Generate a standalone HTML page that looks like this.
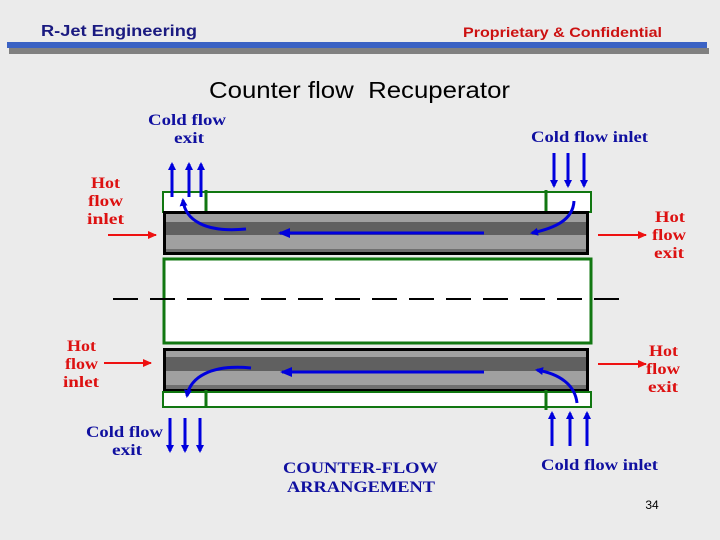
<!DOCTYPE html>
<html><head><meta charset="utf-8"><style>
body{margin:0;width:720px;height:540px;background:#ebebeb;overflow:hidden}
svg{display:block}
.l{font-family:"Liberation Serif",serif;font-weight:bold;font-size:16px}
.b{fill:#1010a0}.r{fill:#dd1111}
</style></head><body>
<svg width="720" height="540" xmlns="http://www.w3.org/2000/svg">
<defs>
<marker id="ab" markerWidth="8" markerHeight="8" refX="6" refY="4" orient="auto" markerUnits="userSpaceOnUse"><path d="M0,0 L8,4 L0,8 z" fill="#0000dd"/></marker>
<marker id="ar" markerWidth="9" markerHeight="8" refX="8" refY="4" orient="auto" markerUnits="userSpaceOnUse"><path d="M0,0 L9,4 L0,8 z" fill="#ee1111"/></marker>
<marker id="abl" markerWidth="12" markerHeight="10" refX="10" refY="5" orient="auto" markerUnits="userSpaceOnUse"><path d="M0,0 L12,5 L0,10 z" fill="#0000dd"/></marker>
</defs>
<text x="41" y="36" font-family="Liberation Sans,sans-serif" font-weight="bold" font-size="16" fill="#1a1a80" textLength="156" lengthAdjust="spacingAndGlyphs">R-Jet Engineering</text>
<text x="463" y="37" font-family="Liberation Sans,sans-serif" font-weight="bold" font-size="14" fill="#cc1111" textLength="199" lengthAdjust="spacingAndGlyphs">Proprietary &amp; Confidential</text>
<rect x="9" y="48" width="700" height="6" fill="#808080"/>
<rect x="7" y="42" width="700" height="6" fill="#3a62c4"/>
<text x="209" y="98" font-family="Liberation Sans,sans-serif" font-size="23" fill="#000" textLength="301" lengthAdjust="spacingAndGlyphs">Counter flow&#160; Recuperator</text>
<rect x="163" y="192" width="428" height="20" fill="#fff" stroke="#117711" stroke-width="2"/>
<line x1="206" y1="190" x2="206" y2="213" stroke="#117711" stroke-width="3"/>
<line x1="546" y1="190" x2="546" y2="213" stroke="#117711" stroke-width="3"/>
<rect x="163" y="211" width="426" height="44" fill="#000"/>
<rect x="166" y="214" width="420" height="8" fill="#a0a0a0"/>
<rect x="166" y="222" width="420" height="13" fill="#606060"/>
<rect x="166" y="235" width="420" height="14" fill="#a0a0a0"/>
<rect x="166" y="249" width="420" height="3" fill="#707070"/>
<rect x="164" y="259" width="427" height="84" fill="#fff" stroke="#117711" stroke-width="3"/>
<line x1="113" y1="299" x2="622" y2="299" stroke="#000" stroke-width="2" stroke-dasharray="25,12"/>
<rect x="163" y="348" width="426" height="44" fill="#000"/>
<rect x="166" y="351" width="420" height="6" fill="#a0a0a0"/>
<rect x="166" y="357" width="420" height="14" fill="#606060"/>
<rect x="166" y="371" width="420" height="14" fill="#a0a0a0"/>
<rect x="166" y="385" width="420" height="4" fill="#707070"/>
<rect x="163" y="392" width="428" height="15" fill="#fff" stroke="#117711" stroke-width="2"/>
<line x1="206" y1="390" x2="206" y2="408" stroke="#117711" stroke-width="3"/>
<line x1="546" y1="390" x2="546" y2="410" stroke="#117711" stroke-width="3"/>
<g stroke="#0000dd" stroke-width="3" fill="none">
<line x1="172" y1="197" x2="172" y2="164" marker-end="url(#ab)"/>
<line x1="189" y1="197" x2="189" y2="164" marker-end="url(#ab)"/>
<line x1="201" y1="197" x2="201" y2="164" marker-end="url(#ab)"/>
<line x1="554" y1="153" x2="554" y2="186" marker-end="url(#ab)"/>
<line x1="568" y1="153" x2="568" y2="186" marker-end="url(#ab)"/>
<line x1="584" y1="153" x2="584" y2="186" marker-end="url(#ab)"/>
<line x1="170" y1="418" x2="170" y2="451" marker-end="url(#ab)"/>
<line x1="185" y1="418" x2="185" y2="451" marker-end="url(#ab)"/>
<line x1="200" y1="418" x2="200" y2="451" marker-end="url(#ab)"/>
<line x1="552" y1="446" x2="552" y2="413" marker-end="url(#ab)"/>
<line x1="570" y1="446" x2="570" y2="413" marker-end="url(#ab)"/>
<line x1="587" y1="446" x2="587" y2="413" marker-end="url(#ab)"/>
<line x1="484" y1="233" x2="280" y2="233" marker-end="url(#abl)"/>
<line x1="484" y1="372" x2="282" y2="372" marker-end="url(#abl)"/>
<path d="M246,229 C205,233 185,220 183,200" marker-end="url(#ab)"/>
<path d="M574,201 C573,220 555,228 532,233" marker-end="url(#ab)"/>
<path d="M251,368 C210,364 190,378 187,396" marker-end="url(#ab)"/>
<path d="M577,403 C575,385 560,374 537,370" marker-end="url(#ab)"/>
</g>
<g stroke="#ee1111" stroke-width="2">
<line x1="108" y1="235" x2="156" y2="235" marker-end="url(#ar)"/>
<line x1="598" y1="235" x2="646" y2="235" marker-end="url(#ar)"/>
<line x1="104" y1="363" x2="151" y2="363" marker-end="url(#ar)"/>
<line x1="598" y1="364" x2="646" y2="364" marker-end="url(#ar)"/>
</g>
<g class="l" lengthAdjust="spacingAndGlyphs">
<text class="b" x="148" y="125" textLength="78" lengthAdjust="spacingAndGlyphs">Cold flow</text>
<text class="b" x="174" y="143" textLength="30" lengthAdjust="spacingAndGlyphs">exit</text>
<text class="b" x="531" y="142" textLength="117" lengthAdjust="spacingAndGlyphs">Cold flow inlet</text>
<text class="r" x="91" y="188" textLength="29" lengthAdjust="spacingAndGlyphs">Hot</text>
<text class="r" x="88" y="206" textLength="35" lengthAdjust="spacingAndGlyphs">flow</text>
<text class="r" x="87" y="224" textLength="37" lengthAdjust="spacingAndGlyphs">inlet</text>
<text class="r" x="655" y="222" textLength="30" lengthAdjust="spacingAndGlyphs">Hot</text>
<text class="r" x="652" y="240" textLength="34" lengthAdjust="spacingAndGlyphs">flow</text>
<text class="r" x="654" y="258" textLength="30" lengthAdjust="spacingAndGlyphs">exit</text>
<text class="r" x="67" y="351" textLength="29" lengthAdjust="spacingAndGlyphs">Hot</text>
<text class="r" x="65" y="369" textLength="33" lengthAdjust="spacingAndGlyphs">flow</text>
<text class="r" x="63" y="387" textLength="36" lengthAdjust="spacingAndGlyphs">inlet</text>
<text class="r" x="649" y="356" textLength="29" lengthAdjust="spacingAndGlyphs">Hot</text>
<text class="r" x="646" y="374" textLength="34" lengthAdjust="spacingAndGlyphs">flow</text>
<text class="r" x="648" y="392" textLength="30" lengthAdjust="spacingAndGlyphs">exit</text>
<text class="b" x="86" y="437" textLength="77" lengthAdjust="spacingAndGlyphs">Cold flow</text>
<text class="b" x="112" y="455" textLength="30" lengthAdjust="spacingAndGlyphs">exit</text>
<text class="b" x="541" y="470" textLength="117" lengthAdjust="spacingAndGlyphs">Cold flow inlet</text>
<text class="b" x="283" y="473" textLength="155" lengthAdjust="spacingAndGlyphs">COUNTER-FLOW</text>
<text class="b" x="287" y="492" textLength="148" lengthAdjust="spacingAndGlyphs">ARRANGEMENT</text>
</g>
<text x="652" y="509" text-anchor="middle" font-family="Liberation Sans,sans-serif" font-size="12" fill="#000">34</text>
</svg>
</body></html>
